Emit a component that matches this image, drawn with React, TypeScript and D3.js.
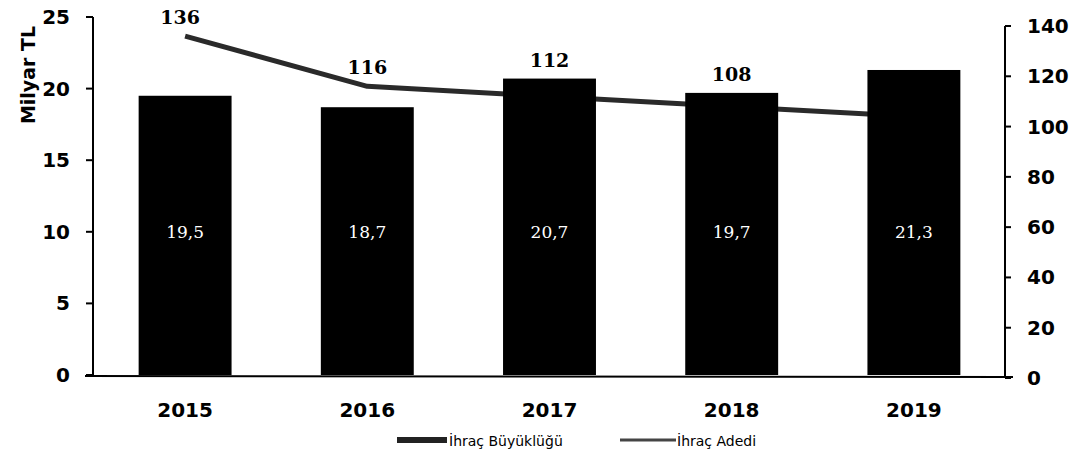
import React from "react";
import * as d3 from "d3";

const years = ["2015", "2016", "2017", "2018", "2019"];
const ihracBuyuklugu = [19.5, 18.7, 20.7, 19.7, 21.3];
const ihracAdedi = [136, 116, 112, 108, 104];
const adediLabels = ["136", "116", "112", "108", ""];
const leftTicks = [0, 5, 10, 15, 20, 25];
const rightTicks = [0, 20, 40, 60, 80, 100, 120, 140];

export default function App() {
  const W = 1082, H = 457;
  const x = d3.scaleBand<string>().domain(years).range([94, 1005]).paddingInner(0.49).paddingOuter(0.245);
  const yL = d3.scaleLinear().domain([0, 25]).range([375, 17]);
  const yR = d3.scaleLinear().domain([0, 140]).range([378, 26]);
  const cx = (y: string) => (x(y) as number) + x.bandwidth() / 2;
  const line = d3.line<number>().x((_, i) => cx(years[i])).y((d) => yR(d)).curve(d3.curveLinear);
  const tickFont = "DejaVu Sans, Verdana, sans-serif";
  return (
    <svg width={W} height={H} style={{ position: "absolute", left: 0, top: 0, background: "#fff" }}>
      <path d={line(ihracAdedi) || ""} fill="none" stroke="#2a2a2a" strokeWidth={5} strokeLinejoin="round" />
      {years.map((y, i) => (
        <rect key={y} x={x(y)} y={yL(ihracBuyuklugu[i])} width={x.bandwidth()} height={yL(0) - yL(ihracBuyuklugu[i])} fill="#000" />
      ))}
      {years.map((y, i) => (
        <text key={"v" + y} x={cx(y)} y={yL(10) + 6} fill="#fff" fontFamily="DejaVu Serif, serif" fontSize={17} textAnchor="middle">
          {ihracBuyuklugu[i].toFixed(1).replace(".", ",")}
        </text>
      ))}
      {years.map((y, i) =>
        adediLabels[i] ? (
          <text key={"a" + y} x={cx(y) - (i === 0 ? 5 : 0)} y={Math.min(yR(ihracAdedi[i]), yL(ihracBuyuklugu[i])) - 12} fontFamily="DejaVu Serif, serif" fontWeight="bold" fontSize={19} textAnchor="middle">
            {adediLabels[i]}
          </text>
        ) : null
      )}
      {/* axes */}
      <line x1={93} x2={93} y1={17} y2={376} stroke="#000" strokeWidth={2} />
      <line x1={1005} x2={1005} y1={26} y2={378} stroke="#000" strokeWidth={2} />
      <line x1={85} x2={1013} y1={376} y2={377} stroke="#000" strokeWidth={2} />
      {leftTicks.map((t) => (
        <g key={"l" + t}>
          <line x1={86} x2={93} y1={yL(t)} y2={yL(t)} stroke="#000" strokeWidth={2} />
          <text x={70} y={yL(t) + 7} textAnchor="end" fontFamily={tickFont} fontWeight="bold" fontSize={20}>{t}</text>
        </g>
      ))}
      {rightTicks.map((t) => (
        <g key={"r" + t}>
          <line x1={1005} x2={1011} y1={yR(t)} y2={yR(t)} stroke="#000" strokeWidth={2} />
          <text x={1027} y={yR(t) + 7} textAnchor="start" fontFamily={tickFont} fontWeight="bold" fontSize={20}>{t}</text>
        </g>
      ))}
      {years.map((y) => (
        <text key={"x" + y} x={cx(y)} y={417} textAnchor="middle" fontFamily={tickFont} fontWeight="bold" fontSize={20}>{y}</text>
      ))}
      <text transform="translate(35,75) rotate(-90)" textAnchor="middle" fontFamily={tickFont} fontWeight="bold" fontSize={19}>Milyar TL</text>
      {/* legend */}
      <rect x={397} y={437} width={50} height={6} fill="#222" />
      <text x={449} y={446} fontFamily={tickFont} fontSize={14}>İhraç Büyüklüğü</text>
      <line x1={620} x2={676} y1={440} y2={440} stroke="#444" strokeWidth={3} />
      <text x={677} y={446} fontFamily={tickFont} fontSize={14}>İhraç Adedi</text>
    </svg>
  );
}
